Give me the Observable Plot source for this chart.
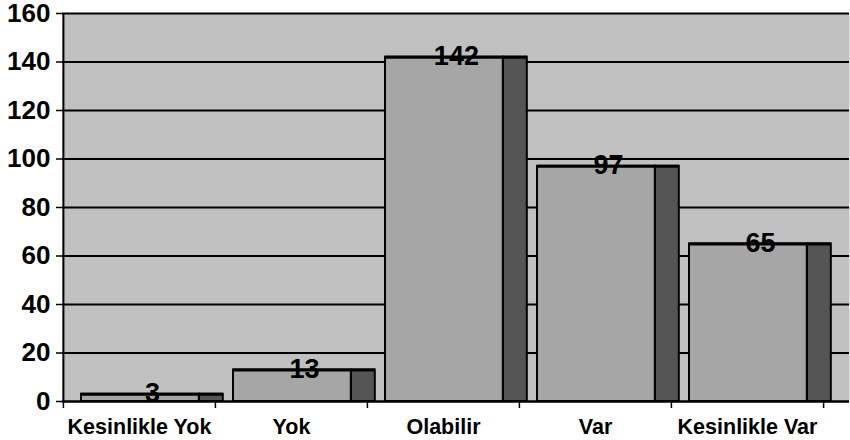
<!DOCTYPE html>
<html>
<head>
<meta charset="utf-8">
<script src="https://cdn.jsdelivr.net/npm/d3@7"></script>
<script src="https://cdn.jsdelivr.net/npm/@observablehq/plot@0.6"></script>
<style>
  html, body { margin: 0; padding: 0; background: #ffffff; }
  svg { display: block; }
</style>
</head>
<body>
<div id="chart"></div>
<script>
const categories = ["Kesinlikle Yok", "Yok", "Olabilir", "Var", "Kesinlikle Var"];
const values = [3, 13, 142, 97, 65];
const yTicks = [0, 20, 40, 60, 80, 100, 120, 140, 160];

const data = categories.map((c, i) => ({category: c, value: values[i]}));

const W = 850, H = 440;
const plotLeft = 62, plotRight = 823, plotTop = 13, plotBottom = 401;
const bw = (plotRight - plotLeft) / categories.length;
const font = "'Liberation Sans', Arial, sans-serif";

const frontInL = 18, frontW = 118, sideW = 24;
const frontInR = bw - frontInL - frontW;

const chart = Plot.plot({
  width: W,
  height: H,
  marginLeft: plotLeft,
  marginRight: 1,
  marginTop: plotTop,
  marginBottom: H - plotBottom,
  style: {fontFamily: font, background: "#ffffff", overflow: "visible"},
  x: {type: "band", domain: categories, range: [plotLeft, plotRight], padding: 0},
  y: {domain: [0, 160], range: [plotBottom, plotTop]},
  marks: [
    Plot.frame({fill: "#c0c0c0", stroke: null}),
    Plot.ruleY(yTicks.filter(d => d > 0), {stroke: "#000", strokeWidth: 2}),
    // side faces
    Plot.barY(data, {x: "category", y: "value", fill: "#555555", stroke: "#000", strokeWidth: 2,
      insetLeft: frontInL + frontW - sideW, insetRight: frontInR, dx: sideW}),
    // front faces
    Plot.barY(data, {x: "category", y: "value", fill: "#a6a6a6", stroke: "#000", strokeWidth: 2,
      insetLeft: frontInL, insetRight: frontInR}),
    // thicker top edge (thin top face)
    Plot.ruleY(data, {x1: "category", x2: "category", y: "value", stroke: "#000", strokeWidth: 3,
      insetLeft: frontInL, insetRight: frontInR - sideW}),
    // left axis line
    Plot.ruleX([categories[0]], {dx: -bw / 2, stroke: "#000", strokeWidth: 2}),
    // baseline
    Plot.ruleY([0], {stroke: "#000", strokeWidth: 2.5}),
    // x boundary ticks
    Plot.ruleX(categories, {dx: -bw / 2, y1: 0, y2: 0, insetBottom: -7, stroke: "#000", strokeWidth: 1.5}),
    Plot.ruleX([categories[categories.length - 1]], {dx: bw / 2, y1: 0, y2: 0, insetBottom: -7, stroke: "#000", strokeWidth: 1.5}),
    Plot.axisY({ticks: yTicks, tickSize: 6, tickPadding: 6, fontSize: 26, fontWeight: "bold",
      stroke: "#000", strokeWidth: 1.5, fill: "#000", label: null}),
    Plot.axisX({tickSize: 0, tickPadding: 17, fontSize: 21.5, fontWeight: "bold", fill: "#000", label: null}),
    // value labels
    Plot.text(data, {x: "category", y: "value", text: d => String(d.value),
      dx: frontInL + (frontW + sideW) / 2 - bw / 2, dy: -1,
      fontSize: 27, fontWeight: "bold", fill: "#000", textAnchor: "middle", lineAnchor: "middle"})
  ]
});

document.getElementById("chart").appendChild(chart);
</script>
</body>
</html>
